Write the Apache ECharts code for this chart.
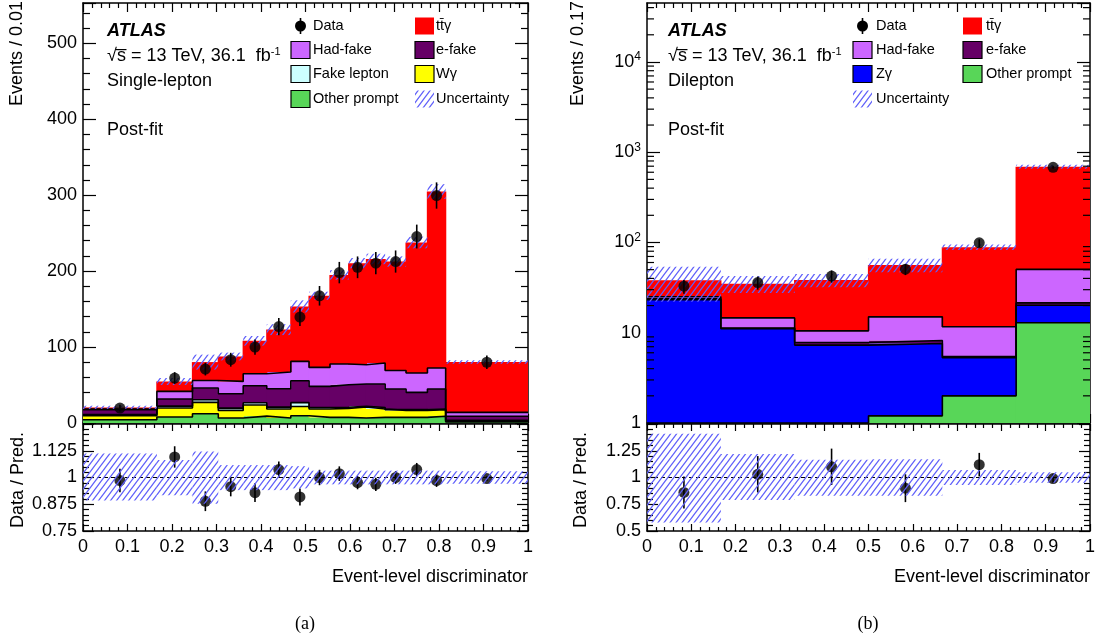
<!DOCTYPE html>
<html><head><meta charset="utf-8">
<script src="https://cdn.jsdelivr.net/npm/echarts@6/dist/echarts.min.js"></script>
<style>html,body{margin:0;padding:0;background:#fff}#c{width:1100px;height:639px}</style>
</head><body><div id="c"></div><script>
// ---------------- (a) Single-lepton ----------------
const binEdgesA = [0, 0.166, 0.246, 0.304, 0.360, 0.413, 0.467, 0.508, 0.555, 0.597, 0.637, 0.679, 0.726, 0.774, 0.815, 1];
const otherPromptA = [4.3, 7.9, 12.2, 6.6, 9.0, 6.6, 9.6, 7.4, 7.4, 6.6, 7.4, 7.4, 7.4, 8.8, 1.5];
const wGammaA      = [5.3, 11.8, 14.9, 10.0, 14.7, 11.8, 12.2, 11.0, 11.8, 14.4, 11.0, 9.2, 9.2, 8.7, 1.5];
const fakeLeptonA  = [1.5, 2.5, 3.5, 3.0, 3.0, 2.5, 5.0, 2.0, 1.5, 1.0, 2.0, 1.0, 1.0, 1.0, 0.5];
const eFakeA       = [6.4, 9.4, 15.4, 19.0, 22.4, 24.2, 28.9, 27.8, 29.7, 29.3, 30.9, 27.1, 22.7, 26.2, 5.3];
const hadFakeA     = [1.0, 10.0, 10.0, 16.2, 15.8, 22.0, 25.4, 25.0, 27.2, 25.4, 27.6, 24.5, 25.5, 27.7, 5.2];
const ttGammaA     = [2.0, 13.1, 24.2, 32.8, 43.4, 55.9, 72.3, 94.3, 117.4, 133.8, 137.1, 143.4, 171.8, 232.3, 66.3];
const dataA        = [19.7, 59.2, 71.0, 83.3, 100.0, 127.0, 139.5, 167.5, 198.0, 205.0, 210.5, 212.6, 245.5, 299.5, 80.0];
const dataErrA     = [4.4, 7.7, 8.4, 9.1, 10.0, 11.3, 11.8, 12.9, 14.1, 14.3, 14.5, 14.6, 15.7, 17.3, 8.9];
const ratioA       = [0.986, 1.096, 0.889, 0.957, 0.929, 1.037, 0.909, 1.0, 1.018, 0.976, 0.968, 1.0, 1.037, 0.986, 0.995];
const ratioErrA    = [0.055, 0.05, 0.046, 0.045, 0.044, 0.038, 0.04, 0.036, 0.034, 0.031, 0.031, 0.03, 0.031, 0.03, 0.011];
const bandUpA      = [1.112, 1.082, 1.122, 1.058, 1.058, 1.058, 1.053, 1.032, 1.032, 1.032, 1.032, 1.032, 1.032, 1.032, 1.029];
const bandDownA    = [0.893, 0.917, 0.877, 0.941, 0.941, 0.941, 0.949, 0.968, 0.968, 0.968, 0.968, 0.968, 0.968, 0.968, 0.971];

// ---------------- (b) Dilepton ----------------
const binEdgesB = [0, 0.1667, 0.3333, 0.5, 0.6667, 0.8333, 1];
const otherPromptB = [0, 0, 0, 1.2, 2.0, 12.9];
const zGammaB      = [23.3, 11.1, 7.3, 6.4, 3.3, 7.3];
const eFakeB       = [0.5, 0.2, 0.5, 0.6, 0.15, 1.2];
const hadFakeB     = [1.2, 3.3, 2.7, 6.8, 6.2, 28.9];
const ttGammaB     = [13.1, 20.3, 28.0, 41.3, 77.0, 639.7];
const dataB        = [32.8, 36.0, 42.4, 50.6, 99.0, 680.0];
const dataErrB     = [5.7, 6.0, 6.5, 7.1, 9.9, 26.0];
const ratioB       = [0.86, 1.03, 1.10, 0.90, 1.12, 0.99];
const ratioErrB    = [0.15, 0.17, 0.17, 0.13, 0.11, 0.04];
const bandUpB      = [1.41, 1.22, 1.165, 1.17, 1.07, 1.05];
const bandDownB    = [0.58, 0.79, 0.83, 0.83, 0.93, 0.95];

const ratioRef = 1;

const FONT = "'Liberation Sans', Arial, Helvetica, sans-serif";
const COL = {tt:'#ff0000', had:'#cc66ff', ef:'#660066', fl:'#ccffff', wg:'#ffff00', op:'#58d658', zg:'#0000ff'};

function makeHatch(){
  const w = 6, h = 8;
  const cv = document.createElement('canvas'); cv.width = w; cv.height = h;
  const ctx = cv.getContext('2d');
  ctx.strokeStyle = 'rgb(95,95,250)'; ctx.lineWidth = 1.3;
  ctx.beginPath();
  ctx.moveTo(-w, 2*h); ctx.lineTo(2*w, -h);
  ctx.moveTo(-2*w, 2*h); ctx.lineTo(w, -h);
  ctx.moveTo(0, 2*h); ctx.lineTo(3*w, -h);
  ctx.stroke();
  return cv;
}
const HATCH = {image: makeHatch(), repeat: 'repeat'};

const chart = echarts.init(document.getElementById('c'), null, {renderer:'canvas', width:1100, height:639});

function xAx(grid, pos, labels, major, minor){
  return {gridIndex:grid, type:'value', min:0, max:1, interval:0.1, position:pos,
    axisLine:{show:true, onZero:false, lineStyle:{color:'#000', width:1.5}},
    axisTick:{show:true, inside:true, length:major, lineStyle:{color:'#000', width:1.2}},
    minorTick:{show:true, splitNumber:5, length:minor, lineStyle:{color:'#000', width:1.2}},
    splitLine:{show:false},
    axisLabel:{show:labels, color:'#000', fontFamily:FONT, fontSize:18, margin:7, showMinLabel:true, showMaxLabel:true,
      formatter: v => String(+v.toFixed(2))}};
}
function yAx(grid, pos, labels, min, max, interval, major, minor, hideTop){
  return {gridIndex:grid, type:'value', min, max, interval, position:pos,
    axisLine:{show:true, onZero:false, lineStyle:{color:'#000', width:1.5}},
    axisTick:{show:true, inside:true, length:major, lineStyle:{color:'#000', width:1.2}},
    minorTick:{show:true, splitNumber:5, length:minor, lineStyle:{color:'#000', width:1.2}},
    splitLine:{show:false},
    axisLabel:{show:labels, color:'#000', fontFamily:FONT, fontSize:18, margin:6, showMaxLabel:!hideTop, showMinLabel:true,
      formatter: v => (hideTop && Math.abs(v-max) < 1e-9) ? '' : String(+v.toFixed(3))}};
}
function logAx(grid, pos, labels){
  return {gridIndex:grid, type:'log', logBase:10, min:1, max:45000, position:pos,
    axisLine:{show:true, onZero:false, lineStyle:{color:'#000', width:1.5}},
    axisTick:{show:true, inside:true, length:13, lineStyle:{color:'#000', width:1.2}},
    minorTick:{show:false}, splitLine:{show:false},
    axisLabel:{show:labels, color:'#000', fontFamily:FONT, fontSize:18, margin:6, showMaxLabel:false,
      formatter: v => { const e = Math.round(Math.log10(v)); if (Math.abs(v-Math.pow(10,e)) > 1e-6*v) return '';
        if (e === 0) return '1'; if (e === 1) return '10'; return '10{s|' + e + '}'; },
      rich:{s:{fontSize:12, fontFamily:FONT, color:'#000', verticalAlign:'top', padding:[0,0,10,0]}}}};
}

const series = [];

function stackPanel(edges, comps, xi, yi, floor){
  const n = edges.length - 1;
  let cum = new Array(n).fill(0);
  comps.forEach(c => {
    const rows = c.values.map((v,i) => [edges[i], edges[i+1], cum[i], cum[i] + v]);
    cum = rows.map(r => r[3]);
    series.push({type:'custom', xAxisIndex:xi, yAxisIndex:yi, z:2, silent:true, animation:false,
      data: rows, encode:{x:[0,1], y:[2,3]},
      renderItem:(p, api) => {
        const lo = Math.max(api.value(2), floor), hi = Math.max(api.value(3), floor);
        const a = api.coord([api.value(0), hi]), b = api.coord([api.value(1), lo]);
        const padL = p.dataIndex > 0 ? 0.6 : 0, padR = p.dataIndex < n - 1 ? 0.6 : 0;
        return {type:'rect', shape:{x:a[0]-padL, y:a[1], width:b[0]-a[0]+padL+padR, height:b[1]-a[1]}, style:{fill:c.color, stroke:null}};
      }});
    if (c.outline){
      const pts = cum.map((v,i) => [edges[i], Math.max(v, floor)]);
      pts.push([edges[n], Math.max(cum[n-1], floor)]);
      series.push({type:'line', xAxisIndex:xi, yAxisIndex:yi, z:3, step:'end', data:pts, showSymbol:false, symbol:'none',
        silent:true, animation:false, lineStyle:{color:'#000', width:1.6}});
    }
  });
  return cum;
}

function bandSeries(edges, base, up, down, xi, yi, z){
  const rows = up.map((u,i) => [edges[i], edges[i+1], (base ? base[i] : 1) * down[i], (base ? base[i] : 1) * u]);
  series.push({type:'custom', xAxisIndex:xi, yAxisIndex:yi, z, silent:true, animation:false,
    data: rows, encode:{x:[0,1], y:[2,3]},
    renderItem:(p, api) => {
      const a = api.coord([api.value(0), api.value(3)]), b = api.coord([api.value(1), api.value(2)]);
      return {type:'rect', shape:{x:a[0], y:a[1], width:b[0]-a[0], height:b[1]-a[1]}, style:{fill:HATCH, stroke:null}};
    }});
}

function pointSeries(edges, vals, errs, xi, yi, z){
  const rows = vals.map((v,i) => [(edges[i]+edges[i+1])/2, v, v - errs[i], v + errs[i]]);
  series.push({type:'custom', xAxisIndex:xi, yAxisIndex:yi, z, silent:true, animation:false,
    data: rows, encode:{x:0, y:[1,2,3]},
    renderItem:(p, api) => {
      const a = api.coord([api.value(0), api.value(2)]), b = api.coord([api.value(0), api.value(3)]);
      return {type:'line', shape:{x1:a[0], y1:a[1], x2:b[0], y2:b[1]}, style:{stroke:'#000', lineWidth:1.6}};
    }});
  series.push({type:'scatter', xAxisIndex:xi, yAxisIndex:yi, z, silent:true, animation:false,
    data: rows.map(r => [r[0], r[1]]), symbol:'circle', symbolSize:11, itemStyle:{color:'#000'}});
}

// panel (a)
const totA = stackPanel(binEdgesA, [
  {values:otherPromptA, color:COL.op, outline:true},
  {values:wGammaA, color:COL.wg, outline:true},
  {values:fakeLeptonA, color:COL.fl, outline:true},
  {values:eFakeA, color:COL.ef, outline:true},
  {values:hadFakeA, color:COL.had, outline:true},
  {values:ttGammaA, color:COL.tt, outline:false}], 0, 0, 0);
bandSeries(binEdgesA, totA, bandUpA, bandDownA, 0, 0, 4);
pointSeries(binEdgesA, dataA, dataErrA, 0, 0, 6);
pointSeries(binEdgesA, ratioA, ratioErrA, 2, 2, 4);
bandSeries(binEdgesA, null, bandUpA, bandDownA, 2, 2, 5);

// panel (b)
const totB = stackPanel(binEdgesB, [
  {values:otherPromptB, color:COL.op, outline:true},
  {values:zGammaB, color:COL.zg, outline:true},
  {values:eFakeB, color:COL.ef, outline:true},
  {values:hadFakeB, color:COL.had, outline:true},
  {values:ttGammaB, color:COL.tt, outline:false}], 4, 4, 1);
bandSeries(binEdgesB, totB, bandUpB, bandDownB, 4, 4, 4);
pointSeries(binEdgesB, dataB, dataErrB, 4, 4, 6);
pointSeries(binEdgesB, ratioB, ratioErrB, 6, 6, 4);
bandSeries(binEdgesB, null, bandUpB, bandDownB, 6, 6, 5);

// dashed reference lines at ratio = 1
[[2,2],[6,6]].forEach(([xi, yi]) => series.push({type:'scatter', xAxisIndex:xi, yAxisIndex:yi, z:7, data:[], silent:true, animation:false,
  markLine:{silent:true, symbol:'none', animation:false, label:{show:false}, lineStyle:{color:'#000', width:1, type:[4,3]}, data:[{yAxis:ratioRef}]}}));

// log-axis minor ticks (2..9 x 10^k)
const logMinor = [];
for (let k = 0; k <= 4; k++) for (let m = 2; m <= 9; m++) { const v = m * Math.pow(10, k); if (v < 45000) logMinor.push([0.5, v]); }
series.push({type:'custom', xAxisIndex:4, yAxisIndex:4, z:8, silent:true, animation:false, data:logMinor, encode:{x:0, y:1},
  renderItem:(p, api) => {
    const v = api.value(1); const l = api.coord([0, v]), r = api.coord([1, v]);
    return {type:'group', children:[
      {type:'line', shape:{x1:l[0], y1:l[1], x2:l[0]+7, y2:l[1]}, style:{stroke:'#000', lineWidth:1.2}},
      {type:'line', shape:{x1:r[0], y1:r[1], x2:r[0]-7, y2:r[1]}, style:{stroke:'#000', lineWidth:1.2}}]};
  }});

// ---------- text & legends ----------
const g = [];
function txt(text, x, y, o = {}){
  g.push({type:'text', x, y, rotation:o.rot || 0, z:100, silent:true, style:Object.assign({text, fill:'#000', fontFamily:o.family || FONT,
    fontSize:o.size || 18, fontWeight:o.weight || 'normal', fontStyle:o.style || 'normal', align:o.align || 'left', verticalAlign:'middle'}, o.extra || {})});
}
function box(x, y, color, border){
  g.push({type:'rect', z:100, silent:true, shape:{x, y:y-8.5, width:19, height:17}, style:{fill:color, stroke:border ? '#000' : null, lineWidth:1.2}});
}
function dataIcon(x, y){
  g.push({type:'line', z:100, silent:true, shape:{x1:x, y1:y-8, x2:x, y2:y+8}, style:{stroke:'#000', lineWidth:1.6}});
  g.push({type:'circle', z:100, silent:true, shape:{cx:x, cy:y, r:5.5}, style:{fill:'#000'}});
}
const rows = [26, 50, 74, 99];
const LS = 14.5;
const sup = {sup:{fontSize:11, fontFamily:FONT, fill:'#000', verticalAlign:'top', padding:[0,0,9,0]}};

function header(x0, channel){
  txt('ATLAS', x0, 31, {weight:'bold', style:'italic'});
  txt('\u221As\u0305 = 13 TeV, 36.1  fb{sup|-1}', x0, 56, {extra:{rich:sup}});
  txt(channel, x0, 81);
  txt('Post-fit', x0, 130);
}
header(107, 'Single-lepton');
header(668, 'Dilepton');

// legend (a)
dataIcon(300.5, rows[0]); txt('Data', 313, rows[0], {size:LS});
box(415, rows[0], COL.tt, false); txt('tt\u0304\u03B3', 436, rows[0], {size:LS});
box(291, rows[1], COL.had, true); txt('Had-fake', 313, rows[1], {size:LS});
box(415, rows[1], COL.ef, true); txt('e-fake', 436, rows[1], {size:LS});
box(291, rows[2], COL.fl, true); txt('Fake lepton', 313, rows[2], {size:LS});
box(415, rows[2], COL.wg, true); txt('W\u03B3', 436, rows[2], {size:LS});
box(291, rows[3], COL.op, true); txt('Other prompt', 313, rows[3], {size:LS});
box(415, rows[3], HATCH, false); txt('Uncertainty', 436, rows[3], {size:LS});

// legend (b)
dataIcon(862.5, rows[0]); txt('Data', 876, rows[0], {size:LS});
box(963, rows[0], COL.tt, false); txt('tt\u0304\u03B3', 986, rows[0], {size:LS});
box(853, rows[1], COL.had, true); txt('Had-fake', 876, rows[1], {size:LS});
box(963, rows[1], COL.ef, true); txt('e-fake', 986, rows[1], {size:LS});
box(853, rows[2], COL.zg, true); txt('Z\u03B3', 876, rows[2], {size:LS});
box(963, rows[2], COL.op, true); txt('Other prompt', 986, rows[2], {size:LS});
box(853, rows[3], HATCH, false); txt('Uncertainty', 876, rows[3], {size:LS});

// axis titles
txt('Events / 0.01', 17, 1, {rot:Math.PI/2, align:'right'});
txt('Events / 0.17', 578, 1, {rot:Math.PI/2, align:'right'});
txt('Data / Pred.', 18, 480, {rot:Math.PI/2, align:'center'});
txt('Data / Pred.', 581, 480, {rot:Math.PI/2, align:'center'});
txt('Event-level discriminator', 528, 577, {align:'right'});
txt('Event-level discriminator', 1090, 577, {align:'right'});
txt('(a)', 305, 624, {align:'center', family:"'Liberation Serif', 'DejaVu Serif', serif"});
txt('(b)', 868, 624, {align:'center', family:"'Liberation Serif', 'DejaVu Serif', serif"});

chart.setOption({
  animation:false,
  backgroundColor:'#fff',
  grid:[
    {left:83, top:3, width:445, height:420},
    {left:83, top:424, width:445, height:107},
    {left:647, top:3, width:443, height:420},
    {left:647, top:424, width:443, height:107}],
  xAxis:[
    xAx(0,'bottom',false,9,5), xAx(0,'top',false,9,5),
    xAx(1,'bottom',true,7,4), xAx(1,'top',false,7,4),
    xAx(2,'bottom',false,9,5), xAx(2,'top',false,9,5),
    xAx(3,'bottom',true,7,4), xAx(3,'top',false,7,4)],
  yAxis:[
    yAx(0,'left',true,0,553,100,13,7,true), yAx(0,'right',false,0,553,100,13,7,true),
    yAx(1,'left',true,0.75,1.25,0.125,11,6,true), yAx(1,'right',false,0.75,1.25,0.125,11,6,true),
    logAx(2,'left',true), logAx(2,'right',false),
    yAx(3,'left',true,0.5,1.5,0.25,11,6,true), yAx(3,'right',false,0.5,1.5,0.25,11,6,true)],
  series,
  graphic:g
});
</script></body></html>
